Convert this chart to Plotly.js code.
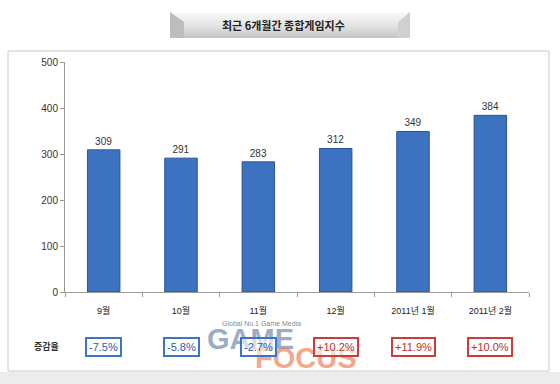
<!DOCTYPE html>
<html><head><meta charset="utf-8">
<script src="https://cdn.plot.ly/plotly-3.0.1.min.js"></script>
<style>html,body{margin:0;padding:0;background:#fff;}#chart{width:560px;height:384px;}</style>
</head><body><div id="chart"></div>
<script>
const months = ['9월','10월','11월','12월','2011년 1월','2011년 2월'];
const values = [309, 291, 283, 312, 349, 384];
const changes = ['-7.5%','-5.8%','-2.7%','+10.2%','+11.9%','+10.0%'];
const titleText = '최근 6개월간 종합게임지수';
const changeLabel = '증감율';

const FONT = 'Liberation Sans, Noto Sans CJK KR, sans-serif';
const KFONT = 'Noto Sans CJK KR, Liberation Sans, sans-serif';

const trace = {
  type: 'bar', x: months, y: values, width: 0.42,
  marker: {color: '#3d72c0', line: {color: '#2a5597', width: 1}},
  text: values.map(String), textposition: 'outside', cliponaxis: false,
  textfont: {family: FONT, size: 10, color: '#333'}, hoverinfo: 'skip'
};

const annotations = [];
// watermark (drawn first, under the boxes' text)
annotations.push({x: 0.424, y: -0.135, xref: 'paper', yref: 'paper', yanchor: 'middle',
  text: 'Global No.1 Game Media', showarrow: false, font: {family: FONT, size: 7, color: 'rgba(90,100,120,0.8)'}});
annotations.push({x: 0.4, y: -0.205, xref: 'paper', yref: 'paper', yanchor: 'middle',
  text: '<b>GAME</b>', showarrow: false, font: {family: FONT, size: 29, color: 'rgba(70,100,150,0.55)'}});
annotations.push({x: 0.52, y: -0.285, xref: 'paper', yref: 'paper', yanchor: 'middle',
  text: '<b>FOCUS</b>', showarrow: false, font: {family: FONT, size: 29, color: 'rgba(235,110,60,0.6)'}});

changes.forEach((c, i) => annotations.push({
  x: months[i], y: -0.239, xref: 'x', yref: 'paper', yanchor: 'middle',
  text: c, showarrow: false,
  font: {family: FONT, size: 11, color: c.startsWith('-') ? '#2f5aa8' : '#b83030'},
  bordercolor: c.startsWith('-') ? '#3a74cc' : '#d03a3a', borderwidth: 2, borderpad: 2,
  bgcolor: 'rgba(255,255,255,0.6)'
}));
annotations.push({x: -0.071, y: -0.239, xref: 'paper', yref: 'paper', yanchor: 'middle',
  text: '<b>' + changeLabel + '</b>', showarrow: false, font: {family: KFONT, size: 9, color: '#333'}});
annotations.push({x: 0.47, y: 1.161, xref: 'paper', yref: 'paper', yanchor: 'middle',
  text: '<b>' + titleText + '</b>', showarrow: false, font: {family: KFONT, size: 11, color: '#222'}});

const grad = 'data:image/svg+xml;utf8,' + encodeURIComponent(
  '<svg xmlns="http://www.w3.org/2000/svg" width="240" height="26" preserveAspectRatio="none">' +
  '<defs><linearGradient id="g" x1="0" y1="0" x2="0" y2="1">' +
  '<stop offset="0" stop-color="#fafafa"/><stop offset="0.5" stop-color="#e6e6e6"/><stop offset="1" stop-color="#c4c4c4"/>' +
  '</linearGradient></defs><rect width="240" height="26" fill="url(#g)"/>' +
  '<polygon points="0,0 14,10 14,26 0,26" fill="#bdbdbd"/><polygon points="240,0 228,10 228,26 240,26" fill="#d0d0d0"/></svg>');

const layout = {
  width: 560, height: 384,
  margin: {l: 65, r: 31, t: 62, b: 92},
  paper_bgcolor: '#fff', plot_bgcolor: 'rgba(0,0,0,0)',
  showlegend: false, bargap: 0.58,
  font: {family: FONT, size: 10, color: '#333'},
  xaxis: {type: 'category', tickson: 'boundaries', ticks: 'outside', ticklen: 4, tickcolor: '#999',
    showline: true, linecolor: '#999', linewidth: 1, showgrid: false, ticklabelstandoff: 10,
    tickfont: {family: FONT, size: 9, color: '#222'}, fixedrange: true},
  yaxis: {range: [0, 500], dtick: 100, ticks: 'outside', ticklen: 4, tickcolor: '#999',
    showline: true, linecolor: '#999', linewidth: 1, showgrid: false, zeroline: false,
    tickfont: {family: FONT, size: 10, color: '#333'}, fixedrange: true},
  shapes: [
    {type: 'rect', xref: 'paper', yref: 'paper', x0: -0.1228, x1: 1.0431, y0: -0.3435, y1: 1.0478,
     line: {color: '#c8c8c8', width: 1}, fillcolor: 'rgba(0,0,0,0)', layer: 'below'},
    {type: 'rect', xref: 'paper', yref: 'paper', x0: -0.2, x1: 1.2, y0: -0.4, y1: -0.3478,
     line: {width: 0}, fillcolor: '#ececec', layer: 'below'}
  ],
  images: [{source: grad, xref: 'paper', yref: 'paper', x: 0.2263, y: 1.2174, sizex: 0.5172, sizey: 0.113,
    sizing: 'stretch', xanchor: 'left', yanchor: 'top', layer: 'below'}],
  annotations: annotations
};
Plotly.newPlot('chart', [trace], layout, {staticPlot: true, displayModeBar: false});
</script></body></html>
